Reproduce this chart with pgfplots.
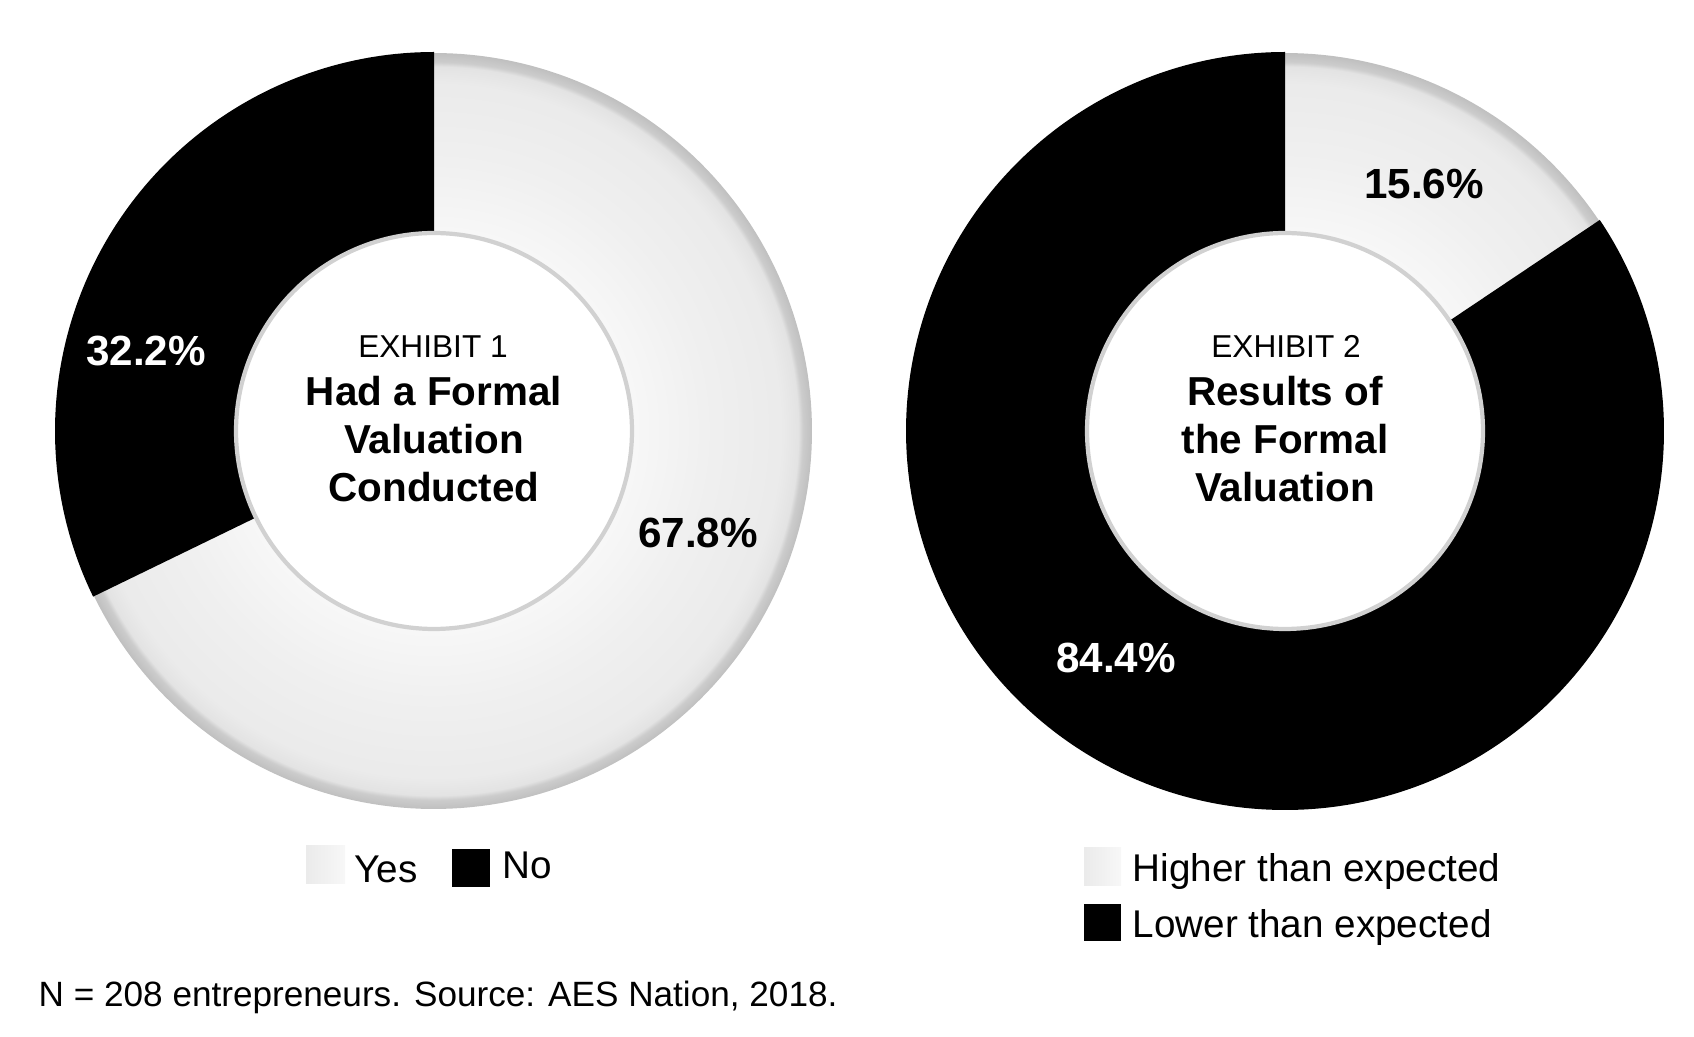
\documentclass[border=0pt]{standalone}
\usepackage{pgfplots}
\pgfplotsset{compat=1.18}
\usepackage{fontspec}
\setmainfont{Liberation Sans}
\pgfdeclareradialshading{donutring}{\pgfpoint{0bp}{0bp}}{color(0bp)=(white); color(13bp)=(white!97!black); color(18bp)=(white!94!black); color(23bp)=(white!92!black); color(24.1bp)=(white!89!black); color(24.4bp)=(white!80!black); color(25bp)=(white!75!black); color(50bp)=(white!75!black)}
% data (percent)
\def\yesL{67.8}\def\noL{32.2}
\def\higherR{15.6}\def\lowerR{84.4}
\begin{document}
\begin{tikzpicture}
\begin{axis}[
  width=169.4mm, height=103.6mm, scale only axis,
  xmin=0, xmax=1694, ymin=0, ymax=1036,
  enlargelimits=false, hide axis, clip=false]
\path (axis cs:0,0) rectangle (axis cs:1694,1036);
% ---------- left donut ----------
\addplot[draw=none, shade, shading=donutring, domain=0:360, samples=240]
  ({434+378*cos(x)},{605+378*sin(x)}) -- cycle;
\addplot[fill=black, draw=none, domain=90:90+3.6*\noL, samples=200]
  ({434+379*cos(x)},{605+379*sin(x)}) -- (axis cs:434,605) -- cycle;
\addplot[fill=white, draw=white!82!black, line width=1.2pt, domain=0:360, samples=240]
  ({434+198*cos(x)},{605+198*sin(x)}) -- cycle;
% ---------- right donut ----------
\addplot[draw=none, shade, shading=donutring, domain=0:360, samples=240]
  ({1285+378*cos(x)},{605+378*sin(x)}) -- cycle;
\addplot[fill=black, draw=none, domain=-270:90-3.6*\higherR, samples=300]
  ({1285+379*cos(x)},{605+379*sin(x)}) -- (axis cs:1285,605) -- cycle;
\addplot[fill=white, draw=white!82!black, line width=1.2pt, domain=0:360, samples=240]
  ({1285+198*cos(x)},{605+198*sin(x)}) -- cycle;
% ---------- centre texts ----------
\node[anchor=base, font=\fontsize{9}{11}\selectfont] at (axis cs:433,678) {EXHIBIT 1};
\node[anchor=base, font=\fontsize{11.5}{13}\selectfont\bfseries] at (axis cs:434,630) {Had a Formal};
\node[anchor=base, font=\fontsize{11.5}{13}\selectfont\bfseries] at (axis cs:434,582) {Valuation};
\node[anchor=base, font=\fontsize{11.5}{13}\selectfont\bfseries] at (axis cs:434,534) {Conducted};
\node[anchor=base, font=\fontsize{9}{11}\selectfont] at (axis cs:1286,678) {EXHIBIT 2};
\node[anchor=base, font=\fontsize{11.5}{13}\selectfont\bfseries] at (axis cs:1285,630) {Results of};
\node[anchor=base, font=\fontsize{11.5}{13}\selectfont\bfseries] at (axis cs:1285,582) {the Formal};
\node[anchor=base, font=\fontsize{11.5}{13}\selectfont\bfseries] at (axis cs:1285,534) {Valuation};
% ---------- percentages ----------
\node[anchor=base, text=white, font=\fontsize{12}{14}\selectfont\bfseries] at (axis cs:146,670) {\noL\%};
\node[anchor=base, text=black, font=\fontsize{12}{14}\selectfont\bfseries] at (axis cs:698,488) {\yesL\%};
\node[anchor=base, text=black, font=\fontsize{12}{14}\selectfont\bfseries] at (axis cs:1424,837) {\higherR\%};
\node[anchor=base, text=white, font=\fontsize{12}{14}\selectfont\bfseries] at (axis cs:1116,363) {\lowerR\%};
% ---------- legends ----------
\shade[left color=white!92!black, right color=white!97!black] (axis cs:306,152) rectangle (axis cs:345,190);
\node[anchor=base west, inner sep=0pt, font=\fontsize{11}{13}\selectfont] at (axis cs:354,153) {Yes};
\fill[black] (axis cs:452,149) rectangle (axis cs:490,187);
\node[anchor=base west, inner sep=0pt, font=\fontsize{11}{13}\selectfont] at (axis cs:502,157) {No};
\shade[left color=white!92!black, right color=white!97!black] (axis cs:1084,150) rectangle (axis cs:1121,188);
\node[anchor=base west, inner sep=0pt, font=\fontsize{11}{13}\selectfont] at (axis cs:1132,154) {Higher than expected};
\fill[black] (axis cs:1084,95) rectangle (axis cs:1121,132);
\node[anchor=base west, inner sep=0pt, font=\fontsize{11}{13}\selectfont] at (axis cs:1132,99) {Lower than expected};
% ---------- footnote ----------
\node[anchor=base west, inner sep=0pt, font=\fontsize{10}{12}\selectfont] at (axis cs:38,29) {N = 208 entrepreneurs. Source: AES Nation, 2018.};
\end{axis}
\end{tikzpicture}
\end{document}
